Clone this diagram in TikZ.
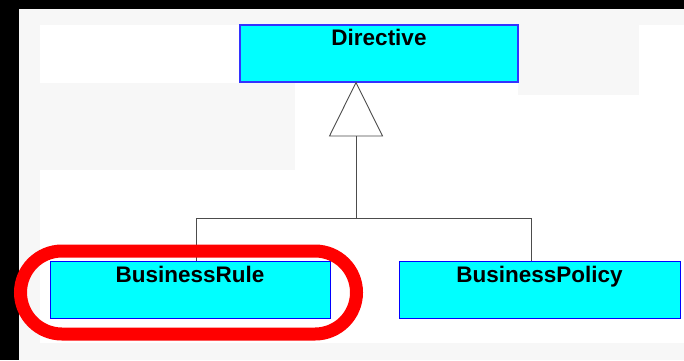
\documentclass[tikz,border=0pt]{standalone}
\usepackage{fontspec}
\setmainfont{Liberation Sans}
\usepackage{tikz}
\definecolor{boxfill}{RGB}{0,255,255}
\definecolor{boxline}{RGB}{0,0,255}
\definecolor{paper}{RGB}{247,247,247}

\begin{document}
\begin{tikzpicture}[x=1pt,y=-1pt,
  klass/.style={draw=boxline,fill=boxfill,line width=1pt,inner sep=0pt,
    text height=20.5pt,text depth=36.5pt,
    font=\fontsize{22.5}{26}\selectfont\bfseries},
  wire/.style={draw=black!70,line width=0.9pt}]
\useasboundingbox (0,0) rectangle (684,360);
\fill[black] (0,0) rectangle (684,360);
\fill[paper] (19,9) rectangle (684,360);
\fill[white] (40,25) rectangle (684,343);
\fill[paper] (40,83) rectangle (295,170);
\fill[paper] (518,25) rectangle (639,95);

\node[klass,draw=boxline!80,line width=1.5pt,minimum width=278pt] (dir) at (379,53.5) {Directive};
\node[klass,minimum width=280pt] (rule) at (190,290) {BusinessRule};
\node[klass,minimum width=281pt] (policy) at (539.5,290) {BusinessPolicy};

\coordinate (tip) at (356,82.5);
\coordinate (base) at (356,136);
\coordinate (fork) at (356,218);

\draw[wire,fill=white] (tip) -- ++(-26.5,53.5) -- ++(53,0) -- cycle;
\draw[wire] (base) -- (fork);
\draw[wire] ([xshift=6pt]rule.north) |- (fork);
\draw[wire] ([xshift=-8.5pt]policy.north) |- (fork);

\node[draw=red,line width=13pt,rounded corners=41.5pt,minimum width=336pt,
  minimum height=83pt] (ring) at (188.5,292.5) {};
\end{tikzpicture}
\end{document}
